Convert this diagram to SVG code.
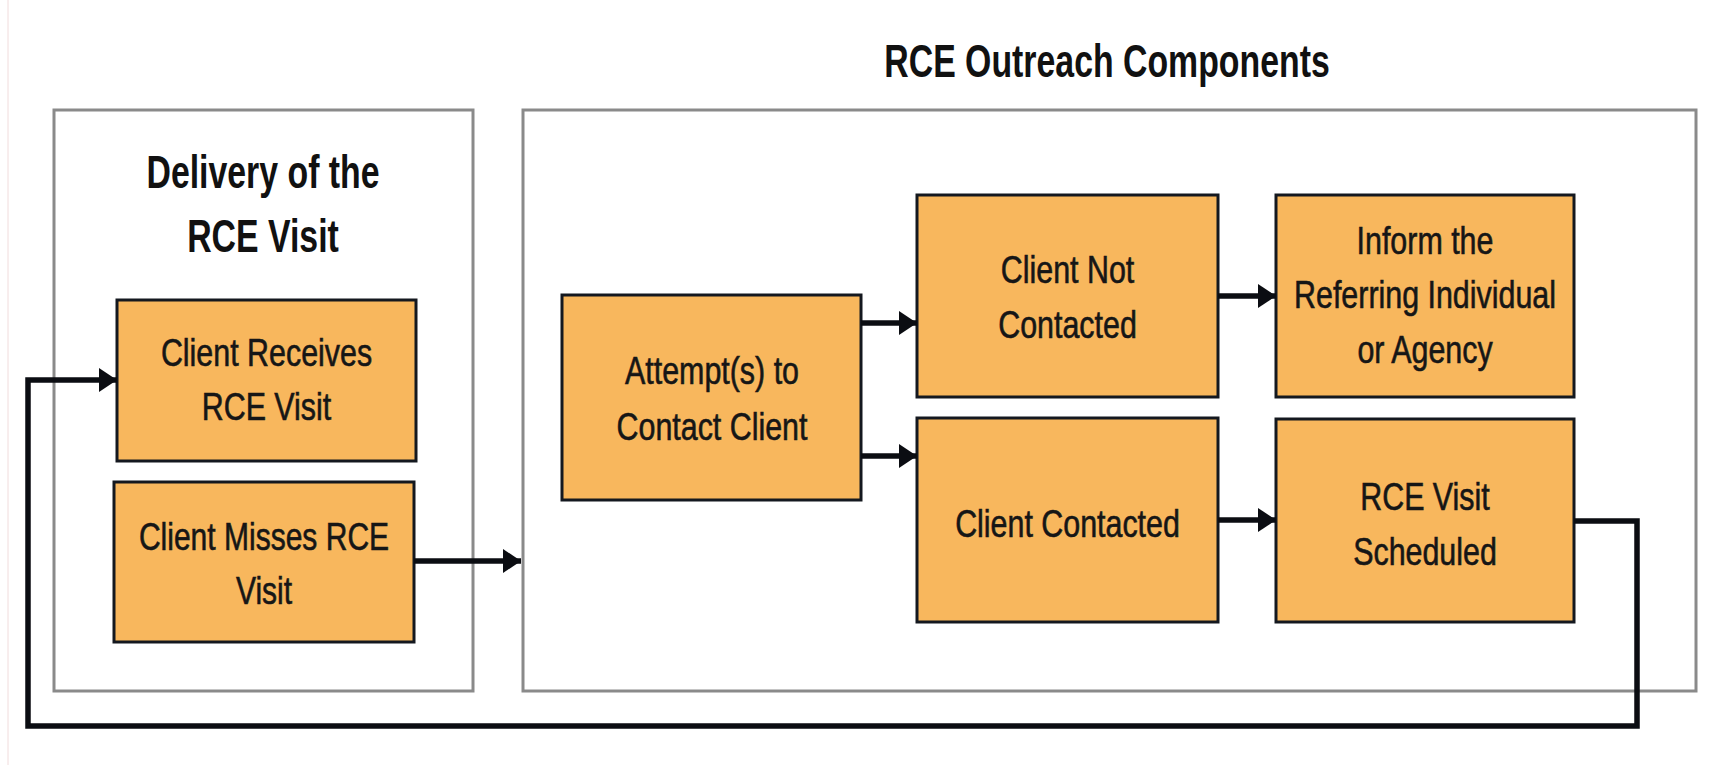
<svg xmlns="http://www.w3.org/2000/svg" width="1711" height="765" viewBox="0 0 1711 765">
  <defs>
    <style>
      .panel { fill: #ffffff; stroke: #8a8a8a; stroke-width: 3; }
      .box { fill: #F8B75D; stroke: #14181f; stroke-width: 3; }
      .lbl { font-family: "Liberation Sans", Arial, sans-serif; font-size: 38px; fill: #161616; stroke: #161616; stroke-width: 0.6; text-anchor: middle; }
      .head { font-family: "Liberation Sans", Arial, sans-serif; font-size: 47px; font-weight: bold; fill: #111111; text-anchor: middle; }
      .link { fill: none; stroke: #0b0d12; stroke-width: 5.5; }
    </style>
    <marker id="arrow" viewBox="0 0 18 24" refX="18" refY="12" markerWidth="18" markerHeight="24" markerUnits="userSpaceOnUse" orient="auto">
      <path d="M0,0 L18,12 L0,24 Z" fill="#0b0d12"/>
    </marker>
  </defs>

  <rect x="0" y="0" width="1711" height="765" fill="#ffffff"/>
  <line x1="8" y1="0" x2="8" y2="765" stroke="#f1dcdc" stroke-width="1"/>

  <!-- panel: delivery of the visit -->
  <g id="panel-delivery">
    <rect class="panel" x="54" y="110" width="419" height="581"/>
    <text class="head" transform="translate(263,0) scale(0.72,1)"><tspan x="0" y="188">Delivery of the</tspan><tspan x="0" y="252">RCE Visit</tspan></text>
  </g>

  <!-- panel: outreach components -->
  <g id="panel-outreach">
    <rect class="panel" x="523" y="110" width="1173" height="581"/>
    <text class="head" transform="translate(1107,0) scale(0.72,1)"><tspan x="0" y="77">RCE Outreach Components</tspan></text>
  </g>

  <g id="node-receives">
    <rect class="box" x="117" y="300" width="299" height="161"/>
    <text class="lbl" transform="translate(266.5,0) scale(0.8,1)"><tspan x="0" y="366">Client Receives</tspan><tspan x="0" y="420">RCE Visit</tspan></text>
  </g>

  <g id="node-misses">
    <rect class="box" x="114" y="482" width="300" height="160"/>
    <text class="lbl" transform="translate(264,0) scale(0.79,1)"><tspan x="0" y="550">Client Misses RCE</tspan><tspan x="0" y="604">Visit</tspan></text>
  </g>

  <g id="node-attempt">
    <rect class="box" x="562" y="295" width="299" height="205"/>
    <text class="lbl" transform="translate(712,0) scale(0.8,1)"><tspan x="0" y="384">Attempt(s) to</tspan><tspan x="0" y="440">Contact Client</tspan></text>
  </g>

  <g id="node-not-contacted">
    <rect class="box" x="917" y="195" width="301" height="202"/>
    <text class="lbl" transform="translate(1067.5,0) scale(0.8,1)"><tspan x="0" y="283">Client Not</tspan><tspan x="0" y="338">Contacted</tspan></text>
  </g>

  <g id="node-contacted">
    <rect class="box" x="917" y="418" width="301" height="204"/>
    <text class="lbl" transform="translate(1067.5,0) scale(0.8,1)"><tspan x="0" y="537">Client Contacted</tspan></text>
  </g>

  <g id="node-inform">
    <rect class="box" x="1276" y="195" width="298" height="202"/>
    <text class="lbl" transform="translate(1425,0) scale(0.8,1)"><tspan x="0" y="254">Inform the</tspan><tspan x="0" y="308">Referring Individual</tspan><tspan x="0" y="363">or Agency</tspan></text>
  </g>

  <g id="node-scheduled">
    <rect class="box" x="1276" y="419" width="298" height="203"/>
    <text class="lbl" transform="translate(1425,0) scale(0.8,1)"><tspan x="0" y="510">RCE Visit</tspan><tspan x="0" y="565">Scheduled</tspan></text>
  </g>

  <!-- connectors -->
  <g id="connectors">
    <path class="link" d="M414,561 H521" marker-end="url(#arrow)"/>
    <path class="link" d="M861,323 H917" marker-end="url(#arrow)"/>
    <path class="link" d="M861,456 H917" marker-end="url(#arrow)"/>
    <path class="link" d="M1218,296 H1276" marker-end="url(#arrow)"/>
    <path class="link" d="M1218,520 H1276" marker-end="url(#arrow)"/>
    <path class="link" d="M1574,521 H1637 V726 H28 V380 H117" marker-end="url(#arrow)"/>
  </g>
</svg>
